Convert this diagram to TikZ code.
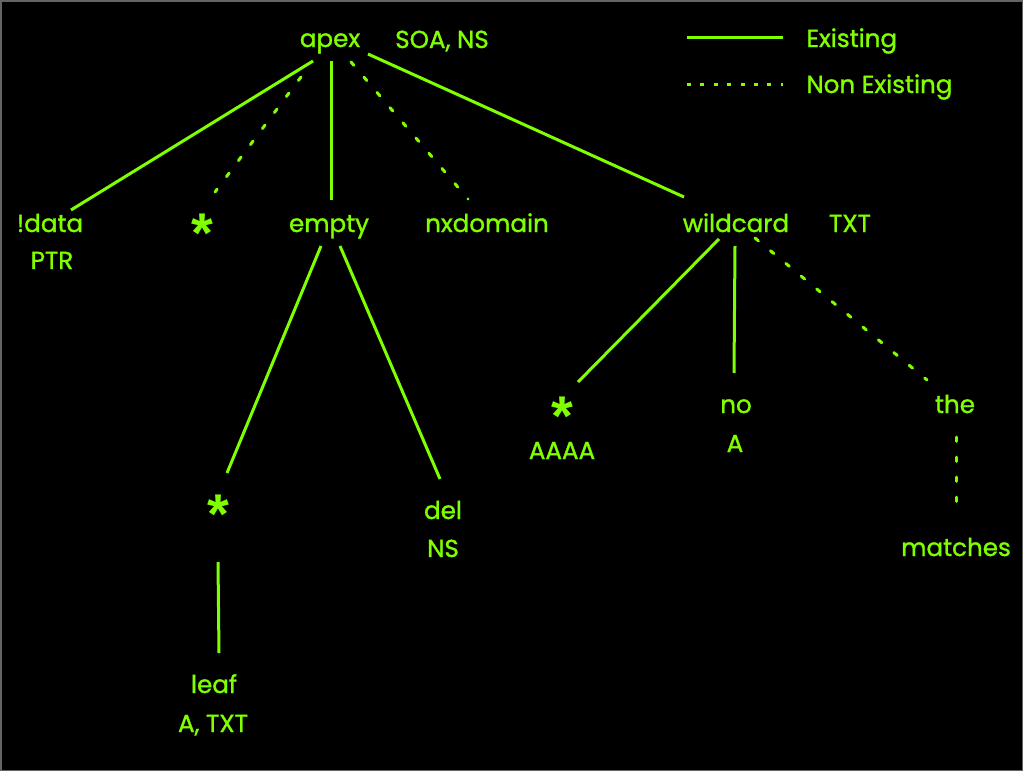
\documentclass[tikz,border=0pt]{standalone}
\usepackage{fontspec}
\setmainfont{Poppins}[FakeBold=1.2]
\newfontfamily\starfont{Liberation Sans}
\usepackage{xcolor}
\definecolor{dnsgreen}{RGB}{127,255,0}
\definecolor{framegray}{RGB}{100,100,100}
\usetikzlibrary{calc}
\tikzset{
  zonelbl/.style={text=dnsgreen, font=\fontsize{12.3}{15}\selectfont,
    inner sep=0pt, anchor=base},
  wildstar/.style={text=dnsgreen, font=\starfont\fontsize{28}{28}\selectfont\bfseries,
    inner sep=0pt, text height=0.72em, text depth=-0.25em},
  exists/.style={draw=dnsgreen, line width=1.5pt},
  nonexists/.style={draw=dnsgreen, line width=1.5pt, line cap=round,
    dash pattern=on 2.2pt off 7.8pt},
}

\begin{document}
\begin{tikzpicture}[x=0.5pt, y=-0.5pt]
  % background and frame
  \useasboundingbox (0,0) rectangle (1023,771);
  \fill[black] (0,0) rectangle (1023,771);
  \draw[framegray, line width=1pt] (0.5,0.5) rectangle (1022.5,770.5);

  % apex
  \node[zonelbl] (apex) at (330,47) {apex};
  \node[zonelbl] (apexrr) at (442,48) {SOA, NS};

  % first level
  \node[zonelbl] (data) at (50,232) {!data};
  \node[zonelbl] (datarr) at (52,269) {PTR};
  \node[wildstar] (star1) at (202,245) {*};
  \node[zonelbl] (empty) at (329,232) {empty};
  \node[zonelbl] (nxd) at (487,232) {nxdomain};
  \node[zonelbl] (wild) at (736,232) {wildcard};
  \node[zonelbl] (wildrr) at (850,232) {TXT};

  % below empty
  \node[wildstar] (star2) at (218,526) {*};
  \node[zonelbl] (leaf) at (214,693) {leaf};
  \node[zonelbl] (leafrr) at (213,732) {A, TXT};
  \node[zonelbl] (del) at (443,519) {del};
  \node[zonelbl] (delrr) at (443,557) {NS};

  % below wildcard
  \node[wildstar] (star3) at (562,428) {*};
  \node[zonelbl] (star3rr) at (562,459) {AAAA};
  \node[zonelbl] (no) at (736,413) {no};
  \node[zonelbl] (norr) at (735,452) {A};
  \node[zonelbl] (the) at (955,413) {the};
  \node[zonelbl] (matches) at (956,556) {matches};

  % connectors
  \draw[exists] ([shift={(-17,14)}]apex.base) -- ([shift={(21,-22)}]data.base);
  \draw[nonexists] ([shift={(-29,30)}]apex.base) -- ([shift={(13,-53)}]star1.center);
  \draw[exists] ([shift={(1,14)}]apex.base) -- ([shift={(2,-32)}]empty.base);
  \draw[nonexists] ([shift={(21,15)}]apex.base) -- ([shift={(-19,-33)}]nxd.base);
  \draw[exists] ([shift={(38,7)}]apex.base) -- ([shift={(-52,-35)}]wild.base);

  \draw[exists] ([shift={(-8,14)}]empty.base) -- ([shift={(9,-53)}]star2.center);
  \draw[exists] ([shift={(11,14)}]empty.base) -- ([shift={(-3,-40)}]del.base);
  \draw[exists] ([shift={(0,36)}]star2.center) -- ([shift={(5,-40)}]leaf.base);

  \draw[exists] ([shift={(-17,7)}]wild.base) -- ([shift={(16,-46)}]star3.center);
  \draw[exists] ([shift={(-1,14)}]wild.base) -- ([shift={(-2,-40)}]no.base);
  \draw[nonexists] ([shift={(19,6)}]wild.base) -- ([shift={(-28,-33)}]the.base);
  \draw[nonexists] ([shift={(1,24)}]the.base) -- ([shift={(0,-53)}]matches.base);

  % legend
  \coordinate (exa) at (687,37);
  \coordinate (exb) at (783,37);
  \coordinate (nxa) at (687,84);
  \coordinate (nxb) at (783,84);
  \draw[exists] (exa) -- (exb);
  \draw[nonexists, line cap=butt, dash pattern=on 2pt off 4.7pt] (nxa) -- (nxb);
  \node[zonelbl, anchor=base west] (lgex) at (806,47) {Existing};
  \node[zonelbl, anchor=base west] (lgnx) at (806,93) {Non Existing};
\end{tikzpicture}
\end{document}
